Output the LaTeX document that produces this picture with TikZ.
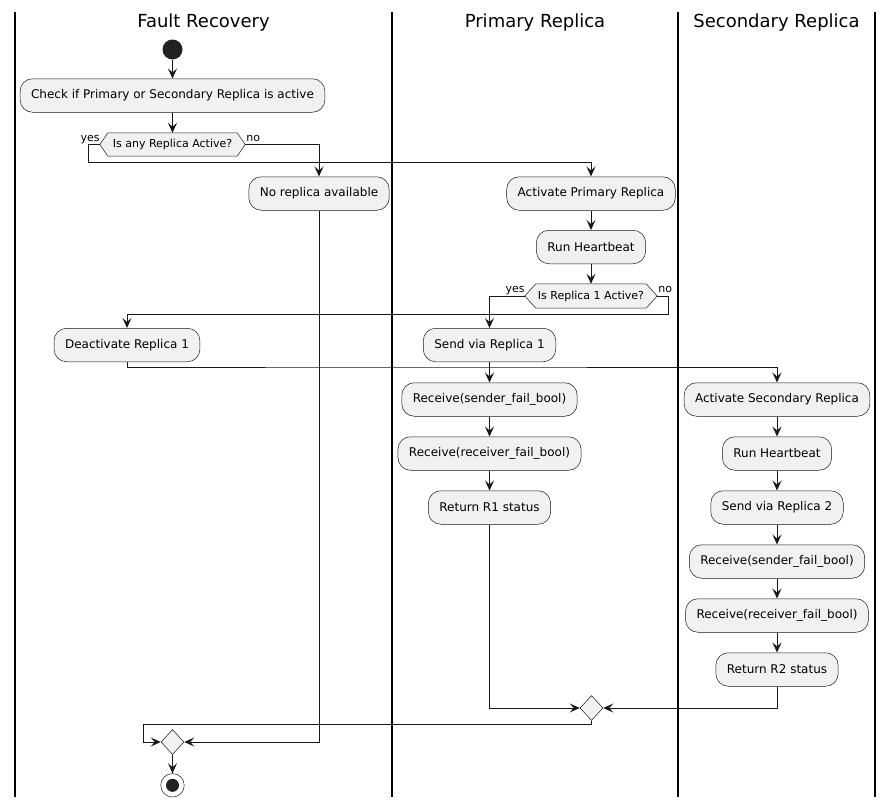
\documentclass[tikz,border=0pt]{standalone}
\usepackage{fontspec}
\setmainfont{DejaVu Sans}
\usetikzlibrary{arrows.meta,shapes.geometric,backgrounds}
\definecolor{boxfill}{HTML}{F1F1F1}
\definecolor{ink}{HTML}{181818}
\definecolor{startc}{HTML}{222222}
\begin{document}
\begin{tikzpicture}[x=1pt,y=-1pt,
 actbox/.style={draw=ink, line width=0.5pt, fill=boxfill, rounded corners=12.5pt, minimum height=33.5pt, inner xsep=11pt, inner ysep=0pt, font=\fontsize{12}{14}\selectfont, text=black},
 hexbox/.style={inner sep=0pt, font=\fontsize{11}{13}\selectfont, text=black},
 hexline/.style={draw=ink, line width=0.5pt, fill=boxfill},
 mergebox/.style={diamond, draw=ink, line width=0.5pt, fill=boxfill, minimum width=23pt, minimum height=25pt, inner sep=0pt},
 arr/.style={draw=ink, line width=1pt, -{Stealth[length=10pt,width=9pt,inset=4pt]}},
 lane/.style={draw=black, line width=1.6pt},
 lbl/.style={font=\fontsize{11}{13}\selectfont, inner sep=0pt, text=black},
 titl/.style={font=\fontsize{18}{21}\selectfont, inner sep=0pt, text=black},
]
\useasboundingbox (0,0) rectangle (892,807);
% swimlanes
\draw[lane] (15,11.5) -- (15,797);
\draw[lane] (392,11.5) -- (392,797);
\draw[lane] (678,11.5) -- (678,797);
\draw[lane] (875,11.5) -- (875,797);
\node[titl] (t1) at (203.5,23) {Fault Recovery};
\node[titl] (t2) at (535,23) {Primary Replica};
\node[titl] (t3) at (776.5,23) {Secondary Replica};

% Fault Recovery lane
\node[circle, fill=startc, minimum size=20pt, inner sep=0pt] (start) at (172.5,49.5) {};
\node[actbox] (check) at (172.5,95.5) {Check if Primary or Secondary Replica is active};
\node[hexbox, minimum width=145pt, minimum height=23pt] (d1) at (172.5,144.5) {Is any Replica Active?};
\node[actbox] (noRep) at (319,193.5) {No replica available};
\node[actbox] (deact) at (127,345) {Deactivate Replica 1};
\node[mergebox] (m1) at (172.5,742) {};
\node[circle, draw=ink, line width=0.5pt, fill=white, minimum size=23.5pt, inner sep=0pt] (endc) at (172.5,785.3) {};
\fill[startc] (endc.center) circle (6.5pt);

% Primary lane
\node[actbox] (actP) at (591,193.5) {Activate Primary Replica};
\node[actbox] (hbP) at (591,247) {Run Heartbeat};
\node[hexbox, minimum width=132pt, minimum height=24pt] (d2) at (591,296) {Is Replica 1 Active?};
\node[actbox] (send1) at (489.5,345) {Send via Replica 1};
\node[actbox] (rsP) at (489.5,399.5) {Receive(sender\_fail\_bool)};
\node[actbox] (rrP) at (489.5,453.5) {Receive(receiver\_fail\_bool)};
\node[actbox] (retP) at (489.5,507.5) {Return R1 status};
\node[mergebox] (m2) at (591.5,708) {};

% Secondary lane
\node[actbox] (actS) at (777,399.5) {Activate Secondary Replica};
\node[actbox] (hbS) at (777,453.5) {Run Heartbeat};
\node[actbox] (send2) at (777,507.5) {Send via Replica 2};
\node[actbox] (rsS) at (777,561.5) {Receive(sender\_fail\_bool)};
\node[actbox] (rrS) at (777,615.5) {Receive(receiver\_fail\_bool)};
\node[actbox] (retS) at (777,669.5) {Return R2 status};

% hexagon outlines
\begin{pgfonlayer}{background}
\draw[hexline] (d1.west) -- ([xshift=8pt]d1.north west) -- ([xshift=-8pt]d1.north east) -- (d1.east) -- ([xshift=-8pt]d1.south east) -- ([xshift=8pt]d1.south west) -- cycle;
\draw[hexline] (d2.west) -- ([xshift=11pt]d2.north west) -- ([xshift=-11pt]d2.north east) -- (d2.east) -- ([xshift=-11pt]d2.south east) -- ([xshift=11pt]d2.south west) -- cycle;
\end{pgfonlayer}

% branch labels
\node[lbl, anchor=base east] (y1) at ([yshift=3.5pt]d1.west) {yes};
\node[lbl, anchor=base west] (n1) at ([yshift=3.5pt,xshift=1pt]d1.east) {no};
\node[lbl, anchor=base east] (y2) at ([yshift=3.5pt]d2.west) {yes};
\node[lbl, anchor=base west] (n2) at ([yshift=3.5pt,xshift=1pt]d2.east) {no};

% connectors
\coordinate (j1) at (88,162);
\coordinate (j2) at (668,314);
\coordinate (j3) at (400,367);
\coordinate (j4) at (143,724);
\draw[arr] (start) -- (check);
\draw[arr] (check) -- (d1);
\draw[arr] (d1.west) -| (j1) -| (actP.north);
\draw[arr] (d1.east) -| (noRep.north);
\draw[arr] (actP) -- (hbP);
\draw[arr] (hbP) -- (d2);
\draw[arr] (d2.west) -| (send1.north);
\draw[arr] (d2.east) -| (j2) -| (deact.north);
\draw[arr] (send1) -- (rsP);
\draw[arr] (rsP) -- (rrP);
\draw[arr] (rrP) -- (retP);
\draw[arr] (deact.south) |- (j3) -| (actS.north);
\draw[arr] (actS) -- (hbS);
\draw[arr] (hbS) -- (send2);
\draw[arr] (send2) -- (rsS);
\draw[arr] (rsS) -- (rrS);
\draw[arr] (rrS) -- (retS);
\draw[arr] (retP.south) |- (m2.west);
\draw[arr] (retS.south) |- (m2.east);
\draw[arr] (m2.south) |- (j4) |- (m1.west);
\draw[arr] (noRep.south) |- (m1.east);
\draw[arr] (m1) -- (endc);
\end{tikzpicture}
\end{document}
